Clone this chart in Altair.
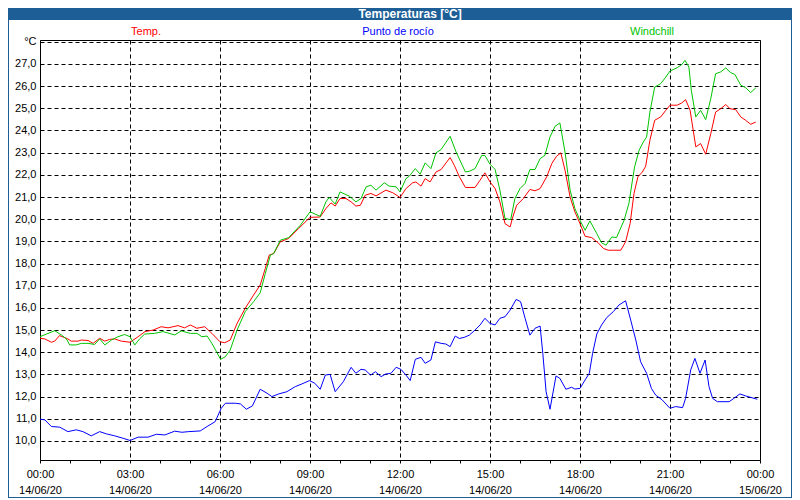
import altair as alt
import pandas as pd

# ---- data (hours since 00:00 14/06/20, °C) ----
temp_h = [0, 0.16, 0.38, 0.49, 0.65, 0.93, 1.04, 1.27, 1.38, 1.6, 1.77, 1.99, 2.16, 2.32, 2.49, 2.71, 3.0,
          3.27, 3.5, 3.77, 4.04, 4.27, 4.6, 4.82, 5.01, 5.23, 5.49, 5.73, 6.0, 6.16, 6.34, 6.57, 6.84,
          7.12, 7.34, 7.51, 7.64, 7.79, 8.01, 8.29, 8.62, 9.0, 9.34, 9.53, 9.7, 9.84, 10.0, 10.2, 10.37,
          10.53, 10.68, 10.84, 11.03, 11.2, 11.53, 11.76, 12.0, 12.2, 12.42, 12.53, 12.7, 12.84, 13.0,
          13.2, 13.37, 13.67, 13.81, 13.98, 14.18, 14.5, 14.67, 14.83, 15.0, 15.17, 15.33, 15.5, 15.67,
          15.76, 15.89, 16.11, 16.33, 16.5, 16.67, 16.89, 17.06, 17.22, 17.36, 17.5, 17.67, 17.83, 18.0,
          18.17, 18.39, 18.61, 18.78, 18.94, 19.13, 19.36, 19.52, 19.67, 19.8, 19.93, 20.08, 20.19,
          20.33, 20.49, 20.69, 20.86, 21.0, 21.24, 21.39, 21.52, 21.67, 21.86, 22.02, 22.19, 22.36,
          22.52, 22.69, 22.86, 23.0, 23.19, 23.36, 23.52, 23.69, 23.86]
temp_v = [14.63, 14.6, 14.45, 14.5, 14.75, 14.6, 14.5, 14.5, 14.55, 14.53, 14.4, 14.63, 14.5, 14.58, 14.6,
          14.5, 14.45, 14.7, 14.93, 15.0, 15.15, 15.1, 15.2, 15.1, 15.23, 15.08, 15.15, 14.85, 14.47,
          14.43, 14.55, 15.3, 15.98, 16.58, 17.03, 17.78, 18.38, 18.45, 18.98, 19.13, 19.58, 20.08, 20.1,
          20.48, 20.74, 20.59, 20.93, 20.93, 20.78, 20.59, 20.63, 21.08, 21.16, 21.05, 21.31, 21.19,
          20.98, 21.38, 21.64, 21.68, 21.49, 21.83, 21.68, 22.13, 22.24, 22.78, 22.43, 21.91, 21.43,
          21.43, 21.76, 22.09, 21.68, 21.38, 20.78, 19.8, 19.65, 20.1, 20.63, 20.93, 21.34, 21.28, 21.38,
          21.91, 22.51, 22.84, 22.99, 22.21, 21.0, 20.33, 19.8, 19.23, 19.17, 18.93, 18.68, 18.6, 18.6,
          18.6, 18.98, 19.8, 21.16, 21.91, 22.13, 22.39, 23.56, 24.46, 24.61, 24.91, 25.14, 25.14, 25.24,
          25.39, 24.91, 23.26, 23.41, 22.93, 23.86, 24.83, 24.98, 25.17, 24.98, 24.94, 24.61, 24.46,
          24.28, 24.38]

wind_h = [0, 0.49, 0.71, 0.88, 0.99, 1.21, 1.38, 1.6, 1.82, 1.99, 2.16, 2.38, 2.6, 2.82, 3.0, 3.16, 3.32,
          3.49, 3.82, 4.1, 4.49, 4.71, 5.01, 5.23, 5.4, 5.57, 5.73, 6.02, 6.18, 6.34, 6.57, 6.84, 7.12,
          7.34, 7.51, 7.68, 7.79, 8.01, 8.29, 8.68, 9.0, 9.34, 9.53, 9.64, 9.84, 10.0, 10.31, 10.53,
          10.7, 10.87, 11.03, 11.2, 11.48, 11.64, 11.87, 12.0, 12.2, 12.31, 12.51, 12.67, 12.84, 13.03,
          13.2, 13.37, 13.67, 13.87, 14.18, 14.31, 14.5, 14.72, 14.83, 15.0, 15.17, 15.33, 15.5, 15.69,
          15.83, 16.0, 16.17, 16.33, 16.5, 16.67, 16.83, 17.0, 17.17, 17.33, 17.5, 17.67, 17.83, 18.0,
          18.17, 18.33, 18.56, 18.72, 18.87, 19.06, 19.22, 19.3, 19.47, 19.63, 19.74, 19.82, 19.97,
          20.11, 20.22, 20.33, 20.49, 20.69, 20.86, 21.0, 21.24, 21.39, 21.5, 21.63, 21.71, 21.86,
          22.02, 22.19, 22.36, 22.52, 22.69, 22.86, 23.02, 23.16, 23.36, 23.52, 23.69, 23.86]
wind_v = [14.7, 14.97, 14.78, 14.6, 14.33, 14.33, 14.4, 14.4, 14.35, 14.6, 14.33, 14.55, 14.7, 14.8, 14.7,
          14.33, 14.6, 14.82, 14.85, 14.93, 14.78, 14.96, 14.85, 14.85, 14.7, 14.73, 14.4, 13.68, 13.8,
          14.1, 15.0, 15.83, 16.28, 16.68, 17.55, 18.38, 18.45, 19.05, 19.17, 19.73, 20.33, 20.13, 20.78,
          20.98, 20.68, 21.23, 21.04, 20.78, 20.93, 21.46, 21.53, 21.31, 21.64, 21.49, 21.46, 21.23,
          21.83, 21.94, 22.28, 22.03, 22.54, 22.28, 22.99, 23.14, 23.74, 23.03, 22.13, 22.16, 22.28,
          22.87, 22.87, 22.48, 22.24, 21.31, 20.03, 19.98, 20.93, 21.38, 21.61, 22.24, 22.24, 22.73,
          22.88, 23.71, 24.19, 24.34, 23.03, 21.31, 20.48, 19.95, 19.5, 19.92, 19.35, 18.93, 18.83, 19.2,
          19.17, 19.43, 19.95, 20.71, 21.68, 22.36, 23.11, 23.48, 23.71, 24.83, 25.96, 26.11, 26.41,
          26.68, 26.83, 26.97, 27.16, 26.86, 25.81, 24.61, 24.91, 24.49, 25.44, 26.56, 26.64, 26.82,
          26.61, 26.53, 26.04, 25.93, 25.71, 25.92]

dew_h = [0, 0.16, 0.38, 0.66, 0.93, 1.21, 1.43, 1.71, 1.99, 2.21, 2.49, 2.77, 3.0, 3.27, 3.6, 3.88, 4.16,
         4.49, 4.73, 4.96, 5.34, 5.57, 5.84, 6.04, 6.18, 6.51, 6.68, 6.88, 7.08, 7.34, 7.57, 7.73, 7.96,
         8.23, 8.51, 8.73, 8.98, 9.16, 9.34, 9.51, 9.67, 9.84, 10.11, 10.37, 10.53, 10.7, 10.84, 11.02,
         11.18, 11.37, 11.53, 11.7, 11.87, 12.03, 12.2, 12.34, 12.51, 12.7, 12.84, 13.03, 13.18, 13.37,
         13.53, 13.67, 13.84, 13.98, 14.14, 14.31, 14.5, 14.67, 14.83, 15.0, 15.17, 15.33, 15.5, 15.67,
         15.87, 16.02, 16.17, 16.33, 16.5, 16.67, 16.76, 16.87, 17.0, 17.2, 17.33, 17.53, 17.72, 17.83,
         18.0, 18.17, 18.31, 18.42, 18.56, 18.72, 18.89, 19.11, 19.3, 19.52, 19.69, 19.86, 20.02, 20.22,
         20.38, 20.52, 20.74, 21.0, 21.19, 21.42, 21.52, 21.69, 21.83, 22.0, 22.17, 22.3, 22.42, 22.58,
         22.97, 23.13, 23.33, 23.52, 23.8, 23.91]
dew_v = [10.98, 10.95, 10.65, 10.62, 10.42, 10.5, 10.42, 10.23, 10.42, 10.32, 10.23, 10.12, 10.02, 10.17,
         10.17, 10.3, 10.27, 10.44, 10.39, 10.42, 10.45, 10.65, 10.87, 11.47, 11.7, 11.7, 11.67, 11.43,
         11.58, 12.33, 12.15, 12.0, 12.12, 12.22, 12.45, 12.57, 12.72, 12.6, 12.33, 12.97, 13.0, 12.22,
         12.67, 13.32, 13.05, 13.23, 13.2, 12.97, 13.12, 12.9, 13.02, 13.05, 13.32, 13.23, 12.97, 12.72,
         13.68, 13.77, 13.5, 13.65, 14.47, 14.4, 14.37, 14.25, 14.73, 14.62, 14.67, 14.77, 15.0, 15.23,
         15.53, 15.3, 15.23, 15.53, 15.6, 15.9, 16.38, 16.28, 15.53, 14.77, 15.08, 15.18, 13.95, 12.22,
         11.43, 12.93, 12.82, 12.33, 12.42, 12.34, 12.37, 12.75, 13.05, 13.95, 14.82, 15.23, 15.56,
         15.83, 16.13, 16.32, 15.45, 14.55, 13.57, 13.05, 12.37, 12.07, 11.85, 11.47, 11.55, 11.5, 11.92,
         13.2, 13.72, 13.05, 13.65, 12.45, 11.92, 11.77, 11.77, 11.92, 12.12, 12.03, 11.92, 11.88]

series_names = ["Temp.", "Punto de rocío", "Windchill"]
series_colors = ["#FF0000", "#0000FF", "#00C400"]
chart_title = "Temperaturas [°C]"
x_ticks = list(range(0, 25))
y_ticks = list(range(10, 29))

rows = []
for name, hs, vs in [("Temp.", temp_h, temp_v), ("Punto de rocío", dew_h, dew_v), ("Windchill", wind_h, wind_v)]:
    for h, v in zip(hs, vs):
        rows.append({"serie": name, "hora": h, "valor": v})
df = pd.DataFrame(rows)

FONT = "Tahoma, Liberation Sans, Arial, sans-serif"
BLUE_BAR = "#1D5E96"
one = pd.DataFrame({"k": [0]})

x_axis = alt.Axis(
    values=x_ticks, title=None, grid=True, gridColor="black", gridDash=[4, 3], gridWidth=1,
    gridOpacity={"condition": {"test": "datum.value % 3 === 0", "value": 1}, "value": 0},
    tickSize=3, tickColor="black", domainColor="black",
    labelExpr="datum.value % 3 === 0 ? [format(datum.value % 24, '02d') + ':00', datum.value >= 24 ? '15/06/20' : '14/06/20'] : ''",
    labelOverlap=False, labelFlush=False, labelPadding=5, labelFont=FONT, labelFontSize=11,
    labelColor="black", labelLineHeight=16, labelBaseline="top",
)
y_axis = alt.Axis(
    values=y_ticks, title=None, grid=True, gridColor="black", gridDash=[4, 3], gridWidth=1,
    tickSize=0, domain=False, labelPadding=4, labelFont=FONT, labelFontSize=11, labelColor="black",
    labelExpr="datum.value >= 28 ? '°C' : replace(format(datum.value, '.1f'), '.', ',')",
)

lines = alt.Chart(df).mark_line(strokeWidth=1, interpolate="linear").encode(
    x=alt.X("hora:Q", scale=alt.Scale(domain=[0, 24], nice=False, zero=False), axis=x_axis),
    y=alt.Y("valor:Q", scale=alt.Scale(domain=[9.14, 28.08], nice=False, zero=False), axis=y_axis),
    color=alt.Color("serie:N", scale=alt.Scale(domain=series_names, range=series_colors), legend=None),
)

bar = alt.Chart(one).mark_rect(color=BLUE_BAR).encode(
    x=alt.value(-32), x2=alt.value(752), y=alt.value(-32), y2=alt.value(-20)
)
frame = alt.Chart(one).mark_rect(fill=None, stroke=BLUE_BAR, strokeWidth=2).encode(
    x=alt.value(-32), x2=alt.value(752), y=alt.value(-32), y2=alt.value(458)
)
title = alt.Chart(one).mark_text(
    text=chart_title, color="white", font=FONT, fontSize=12, fontWeight="bold", baseline="middle", align="center"
).encode(x=alt.value(370), y=alt.value(-26))

leg_x = [106, 358, 612]
legend_layers = [
    alt.Chart(one).mark_text(text=n, color=c, font=FONT, fontSize=11, baseline="middle", align="center")
    .encode(x=alt.value(px), y=alt.value(-8))
    for n, c, px in zip(series_names, series_colors, leg_x)
]

chart = alt.layer(frame, bar, title, *legend_layers, lines).properties(
    width=720, height=420, background="white",
    padding={"left": 32, "top": 32, "right": 32, "bottom": 38},
    autosize=alt.AutoSizeParams(type="none"),
).configure_view(stroke="black", strokeWidth=1)

chart.save("out.html", embed_options={"renderer": "svg", "actions": False})
